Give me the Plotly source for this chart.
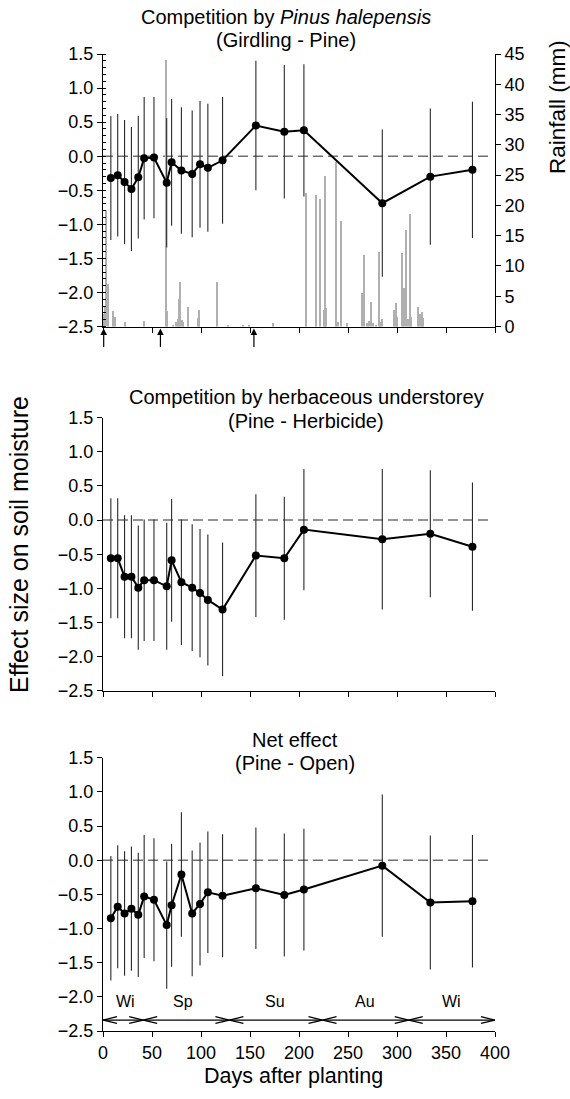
import plotly.graph_objects as go

# ---------------- data ----------------
days = [8, 15, 22, 29, 36, 42, 52, 65, 70, 80, 91, 99, 107, 122, 156, 185, 205, 285, 334, 377]

girdling_pine = [-0.32, -0.28, -0.38, -0.48, -0.31, -0.03, -0.02, -0.39, -0.09, -0.21, -0.26, -0.12,
                 -0.17, -0.06, 0.45, 0.36, 0.38, -0.69, -0.30, -0.20]
girdling_pine_err = [0.91, 0.90, 0.91, 0.91, 0.90, 0.90, 0.89, 0.95, 0.93, 0.93, 0.93, 0.93,
                     0.94, 0.93, 0.95, 0.98, 0.97, 1.08, 1.00, 1.00]

pine_herbicide = [-0.56, -0.56, -0.83, -0.83, -0.99, -0.88, -0.88, -0.97, -0.59, -0.91, -0.99, -1.07,
                  -1.17, -1.31, -0.52, -0.56, -0.14, -0.28, -0.20, -0.39]
pine_herbicide_err = [0.88, 0.88, 0.90, 0.90, 0.91, 0.89, 0.89, 0.93, 0.90, 0.92, 0.93, 0.94,
                      0.96, 0.98, 0.90, 0.90, 0.89, 1.03, 0.93, 0.94]

pine_open = [-0.85, -0.68, -0.78, -0.71, -0.80, -0.53, -0.58, -0.95, -0.66, -0.21, -0.78, -0.64,
             -0.47, -0.52, -0.41, -0.51, -0.43, -0.08, -0.62, -0.60]
pine_open_err = [0.91, 0.90, 0.91, 0.91, 0.91, 0.90, 0.90, 0.93, 0.90, 0.91, 0.92, 0.90,
                 0.89, 0.90, 0.89, 0.90, 0.89, 1.04, 0.98, 0.97]

rain_days = [1.7, 2.4, 3.4, 4.8, 10.5, 12.7, 23, 41.6, 64, 66, 72, 75, 76.5, 77.6, 79, 80.5, 82,
             86.5, 97.5, 98.6, 117, 128, 143, 149, 174, 207, 218, 221.4, 225.7, 227, 228, 238.3,
             239.5, 242.8, 249.5, 264.9, 266.3, 270, 272, 273.6, 276, 279, 281.6, 283, 285,
             297.6, 298.9, 300.2, 305, 307.7, 309, 311, 313.5, 314.8, 322, 323.5, 325.4, 326.5]
rain_mm = [2.0, 3.3, 19.2, 7.0, 2.6, 1.6, 0.8, 0.9, 44.0, 2.6, 0.3, 0.8, 1.2, 4.6, 7.4, 1.0, 0.8,
           3.3, 1.4, 2.8, 7.3, 0.2, 0.3, 0.2, 0.6, 22.1, 21.7, 21.0, 2.7, 24.8, 3.0, 27.2,
           0.8, 17.4, 0.5, 5.5, 11.8, 0.6, 0.9, 4.0, 0.5, 0.3, 12.3, 0.8, 1.2,
           2.7, 3.8, 1.5, 12.2, 6.3, 15.9, 1.2, 18.6, 1.6, 3.3, 2.0, 2.4, 1.4]

event_days = [0.7, 58.6, 154]   # arrows under the top panel

season_labels = ["Wi", "Sp", "Su", "Au", "Wi"]
season_bounds = [0, 41, 129, 224, 312, 400]
season_label_x = [23, 82, 176, 267, 356]

x_ticks = [0, 50, 100, 150, 200, 250, 300, 350, 400]
y_ticks = [-2.5, -2.0, -1.5, -1.0, -0.5, 0.0, 0.5, 1.0, 1.5]
rain_ticks = [0, 5, 10, 15, 20, 25, 30, 35, 40, 45]

# ---------------- figure ----------------
FONT = "Liberation Sans, Arial, Helvetica, sans-serif"
W, H = 570, 1099
L, R, T, B = 103, 75, 54, 68
PH = H - T - B  # 977
PW = W - L - R


def pdom(top_px, bottom_px):
    return [(H - B - bottom_px) / PH, (H - B - top_px) / PH]


def px_x(px):
    return (px - L) / PW


def px_y(py):
    return (H - B - py) / PH


fig = go.Figure()

# rainfall (base axis of top panel, so drawn below the effect sizes)
fig.add_trace(go.Bar(x=rain_days, y=rain_mm, width=1.4, marker=dict(color="#b0b0b0", line=dict(width=0)),
                     xaxis="x", yaxis="y", hoverinfo="skip"))

panels = [("x", "y2", girdling_pine, girdling_pine_err),
          ("x2", "y3", pine_herbicide, pine_herbicide_err),
          ("x3", "y4", pine_open, pine_open_err)]

for xa, ya, vals, errs in panels:
    fig.add_trace(go.Scatter(
        x=days, y=vals, xaxis=xa, yaxis=ya, mode="lines+markers",
        line=dict(color="black", width=2),
        marker=dict(color="black", size=8),
        error_y=dict(type="data", array=errs, visible=True, width=0, thickness=1.1, color="#2a2a2a"),
    ))

tickfont = dict(family=FONT, size=18, color="black")
common_x = dict(range=[0, 400], tickvals=x_ticks, ticks="outside", ticklen=5, tickcolor="black",
                showline=True, linecolor="black", linewidth=1, showgrid=False, zeroline=False,
                tickfont=tickfont, domain=[0, 1])
common_y = dict(range=[-2.5, 1.5], tickvals=y_ticks, tickformat=".1f", ticks="outside", ticklen=5,
                tickcolor="black", showline=True, linecolor="black", linewidth=1, showgrid=False,
                zeroline=False, tickfont=tickfont, side="left")

d_top = pdom(54, 326.5)
d_mid = pdom(417.7, 690.7)
d_bot = pdom(757.7, 1031)

fig.update_layout(
    width=W, height=H,
    margin=dict(l=L, r=R, t=T, b=B),
    paper_bgcolor="white", plot_bgcolor="white",
    showlegend=False,
    font=dict(family=FONT, color="black"),
    bargap=0,
    xaxis=dict(common_x, anchor="y", showticklabels=False),
    yaxis=dict(range=[0, 45], tickvals=rain_ticks, side="right", ticks="outside", ticklen=5,
               tickcolor="black", showline=True, linecolor="black", linewidth=1, showgrid=False,
               zeroline=False, tickfont=tickfont, domain=d_top, anchor="x"),
    yaxis2=dict(common_y, overlaying="y", anchor="x",
                minor=dict(ticks="inside", dtick=0.1, ticklen=3, tickcolor="black")),
    xaxis2=dict(common_x, anchor="y3", showticklabels=False),
    yaxis3=dict(common_y, domain=d_mid, anchor="x2"),
    xaxis3=dict(common_x, anchor="y4", ticktext=[str(v) for v in x_ticks]),
    yaxis4=dict(common_y, domain=d_bot, anchor="x3"),
)

shapes = []
# dashed zero lines
for xa, ya in [("x", "y2"), ("x2", "y3"), ("x3", "y4")]:
    shapes.append(dict(type="line", xref=xa, yref=ya, x0=0, x1=397, y0=0, y1=0,
                       line=dict(color="#707070", width=1.5, dash="10px,5px"), layer="below"))

# season arrows
ys = -2.34
cw, ch = 14.3, 0.05
shapes.append(dict(type="line", xref="x3", yref="y4", x0=season_bounds[0], x1=season_bounds[-1],
                   y0=ys, y1=ys, line=dict(color="black", width=1.3)))
for i, xb in enumerate(season_bounds):
    if i > 0:  # right-pointing chevron ending at boundary
        shapes.append(dict(type="path", xref="x3", yref="y4",
                           path=f"M {xb - cw},{ys + ch} L {xb},{ys} L {xb - cw},{ys - ch}",
                           line=dict(color="black", width=1.3)))
    if i < len(season_bounds) - 1:  # left-pointing chevron starting at boundary
        shapes.append(dict(type="path", xref="x3", yref="y4",
                           path=f"M {xb + cw},{ys + ch} L {xb},{ys} L {xb + cw},{ys - ch}",
                           line=dict(color="black", width=1.3)))

annotations = []
for lab, xl in zip(season_labels, season_label_x):
    annotations.append(dict(text=lab, x=xl, y=-2.07, xref="x3", yref="y4", showarrow=False,
                            font=dict(family=FONT, size=16, color="black")))

# event arrows under top panel
for d in event_days:
    annotations.append(dict(x=px_x(L + d * PW / 400), y=px_y(328.5), xref="paper", yref="paper",
                            ax=0, ay=20, text="", showarrow=True, arrowhead=2, arrowsize=1.1,
                            arrowwidth=1.2, arrowcolor="black"))

tfont = dict(family=FONT, size=20, color="black")
titles = [
    ("Competition by <i>Pinus halepensis</i>", 286, 17),
    ("(Girdling - Pine)", 286, 40),
    ("Competition by herbaceous understorey", 306, 397),
    ("(Pine - Herbicide)", 306, 421),
    ("Net effect", 295, 740),
    ("(Pine - Open)", 295, 763),
]
for txt, cx, cy in titles:
    annotations.append(dict(text=txt, x=px_x(cx), y=px_y(cy), xref="paper", yref="paper",
                            showarrow=False, xanchor="center", yanchor="middle", font=tfont))

annotations.append(dict(text="Days after planting", x=px_x(293), y=px_y(1076), xref="paper",
                        yref="paper", showarrow=False, xanchor="center", yanchor="middle",
                        font=dict(family=FONT, size=21.5, color="black")))
annotations.append(dict(text="Effect size on soil moisture", x=px_x(19), y=px_y(545), xref="paper",
                        yref="paper", showarrow=False, xanchor="center", yanchor="middle",
                        textangle=-90, font=dict(family=FONT, size=25, color="black")))
annotations.append(dict(text="Rainfall (mm)", x=px_x(557), y=px_y(107), xref="paper",
                        yref="paper", showarrow=False, xanchor="center", yanchor="middle",
                        textangle=-90, font=dict(family=FONT, size=22.5, color="black")))

fig.update_layout(shapes=shapes, annotations=annotations)

fig.write_html("out.html")
